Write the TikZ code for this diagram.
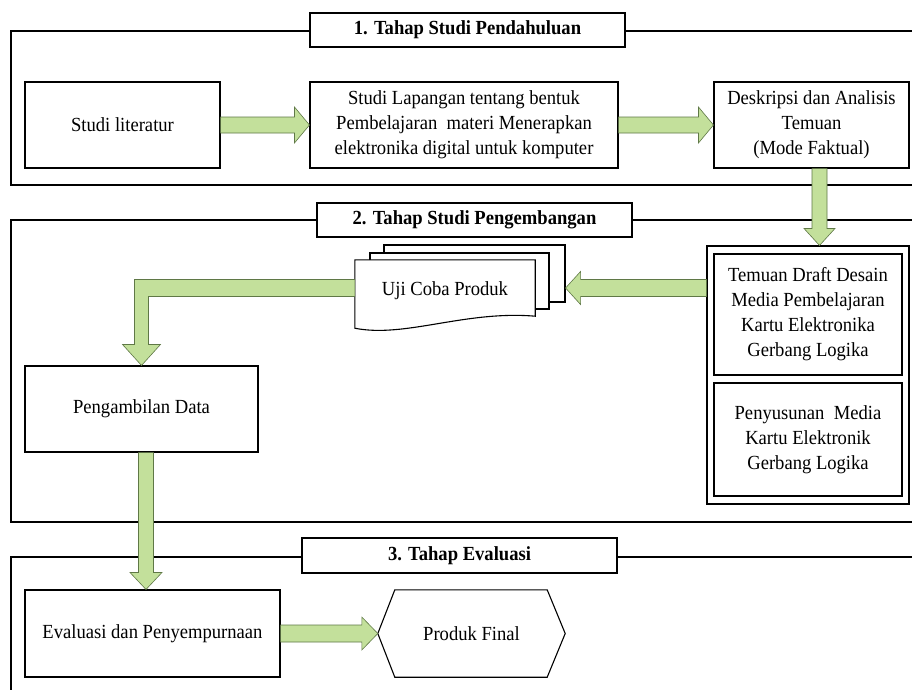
\documentclass[tikz,border=0pt]{standalone}
\usepackage{fontspec}
\setmainfont{Liberation Serif}[FakeStretch=0.93]
\usetikzlibrary{calc}
\definecolor{arrfill}{RGB}{195,224,155}
\definecolor{arrline}{RGB}{95,120,70}
\newcommand\hblockarrow[5]{%
  \path[barrow] ($(#1)+(0,{-(#3)})$) -- ($(#2)+({-(#5)},{-(#3)})$) -- ($(#2)+({-(#5)},{-(#4)})$) -- (#2)
    -- ($(#2)+({-(#5)},{#4})$) -- ($(#2)+({-(#5)},{#3})$) -- ($(#1)+(0,{#3})$) -- cycle;}
\newcommand\vblockarrow[5]{%
  \path[barrow] ($(#1)+({-(#3)},0)$) -- ($(#2)+({-(#3)},{-(#5)})$) -- ($(#2)+({-(#4)},{-(#5)})$) -- (#2)
    -- ($(#2)+({#4},{-(#5)})$) -- ($(#2)+({#3},{-(#5)})$) -- ($(#1)+({#3},0)$) -- cycle;}
\begin{document}
\begin{tikzpicture}[x=1pt,y=-1pt,
  txt/.style={font=\fontsize{20}{25}\selectfont},
  box/.style={draw,line width=1.1pt,fill=white,align=center,inner sep=0pt,txt},
  ttl/.style={draw,line width=1.2pt,fill=white,inner sep=0pt,font=\fontsize{20}{25}\selectfont\bfseries},
  frame/.style={draw,line width=1.1pt},
  sheet/.style={draw,line width=1.1pt,fill=white},
  barrow/.style={fill=arrfill,draw=arrline,line width=0.6pt,line join=miter}]
\useasboundingbox (0,0) rectangle (912,689);
\clip (0,0) rectangle (912,689);
\fill[white] (0,0) rectangle (912,689);

% stage frames
\path[frame] (11,31) rectangle (940,185);
\path[frame] (11,220) rectangle (940,522);
\path[frame] (11,557) rectangle (940,720);

% titles
\node[ttl,minimum width=315pt,minimum height=34pt] (t1) at (467.5,30) {1. Tahap Studi Pendahuluan};
\node[ttl,minimum width=315pt,minimum height=34pt] (t2) at (474.5,220) {2. Tahap Studi Pengembangan};
\node[ttl,minimum width=315pt,minimum height=35pt] (t3) at (459.5,555.5) {3. Tahap Evaluasi};

% stage 1
\node[box,minimum width=195pt,minimum height=86pt] (studi) at (122.5,125) {Studi literatur};
\node[box,minimum width=308pt,minimum height=86pt] (lap) at (464,125)
  {Studi Lapangan tentang bentuk\\Pembelajaran\ \ materi Menerapkan\\elektronika digital untuk komputer};
\node[box,minimum width=195pt,minimum height=86pt] (desk) at (811.5,125)
  {Deskripsi dan Analisis\\Temuan\\(Mode Faktual)};

% stage 2
\node[draw,line width=1.1pt,fill=white,minimum width=202pt,minimum height=258pt,inner sep=0pt] (cont) at (808,375) {};
\node[box,minimum width=188pt,minimum height=121pt] (tem) at (808,314.5)
  {Temuan Draft Desain\\Media Pembelajaran\\Kartu Elektronika\\Gerbang Logika};
\node[box,minimum width=188pt,minimum height=113pt] (pen) at (808,439.5)
  {Penyusunan\ \ Media\\Kartu Elektronik\\Gerbang Logika};

\node[sheet,minimum width=181pt,minimum height=57pt,inner sep=0pt] (doc3) at (474.5,273.5) {};
\node[sheet,minimum width=179pt,minimum height=56pt,inner sep=0pt] (doc2) at (459.5,281) {};
\node[minimum width=180pt,minimum height=56pt,inner sep=0pt] (doc) at (445,288) {};
\path[sheet] (doc.north west) -- (doc.north east) -- (doc.south east)
  .. controls ($(doc.south east)+(-70,-6)$) and ($(doc.south west)+(50,22)$) .. ($(doc.south west)+(0,12)$) -- cycle;
\node[txt,inner sep=0pt] (doctext) at ($(doc.center)+(0,3)$) {Uji Coba Produk};

\node[box,minimum width=233pt,minimum height=86pt] (peng) at (141.5,409) {Pengambilan Data};

% stage 3
\node[box,minimum width=255pt,minimum height=87pt] (eval) at (152.5,633.5) {Evaluasi dan Penyempurnaan};
\node[minimum width=187pt,minimum height=87pt,inner sep=0pt,txt] (hex) at (471.5,633.5) {Produk Final};
\draw[line width=1.1pt] (hex.west) -- ($(hex.north west)+(17,0)$) -- ($(hex.north east)+(-18,0)$) -- (hex.east)
  -- ($(hex.south east)+(-18,0)$) -- ($(hex.south west)+(17,0)$) -- cycle;

% block arrows
\hblockarrow{studi.east}{lap.west}{8}{18}{15}
\hblockarrow{lap.east}{desk.west}{8}{18}{15}
\coordinate (d1a) at ($(desk.south)+(8,0)$);
\coordinate (d1b) at (d1a |- cont.north);
\vblockarrow{d1a}{d1b}{7.5}{15.5}{17}
\coordinate (l1a) at (cont.west |- doc.center);
\coordinate (l1b) at (doc3.east |- doc.center);
\hblockarrow{l1a}{l1b}{8.5}{16.5}{-15}
\coordinate (b1) at (doc.west);
\coordinate (b2) at (peng.north);
\path[barrow] ($(b1)+(0,-8.5)$) -- ($(b2|-b1)+(-7,-8.5)$) -- ($(b2)+(-7,-21)$) -- ($(b2)+(-19,-21)$) -- (b2)
  -- ($(b2)+(19,-21)$) -- ($(b2)+(7,-21)$) -- ($(b2|-b1)+(7,8.5)$) -- ($(b1)+(0,8.5)$) -- cycle;
\coordinate (d2a) at ($(peng.south)+(4.5,0)$);
\coordinate (d2b) at (d2a |- eval.north);
\vblockarrow{d2a}{d2b}{7.5}{16}{17}
\hblockarrow{eval.east}{hex.west}{8.5}{16.5}{16}
\end{tikzpicture}
\end{document}
